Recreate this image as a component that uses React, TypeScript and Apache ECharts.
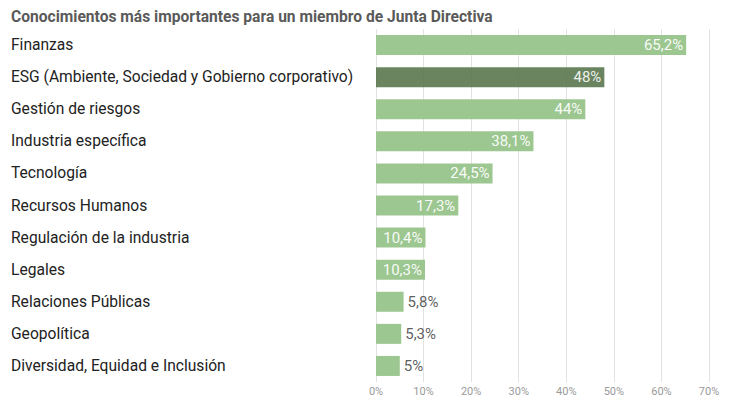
import React, { useEffect, useRef } from "react";
import * as echarts from "echarts";

const title = "Conocimientos más importantes para un miembro de Junta Directiva";
const categories = [
  "Finanzas",
  "ESG (Ambiente, Sociedad y Gobierno corporativo)",
  "Gestión de riesgos",
  "Industria específica",
  "Tecnología",
  "Recursos Humanos",
  "Regulación de la industria",
  "Legales",
  "Relaciones Públicas",
  "Geopolítica",
  "Diversidad, Equidad e Inclusión",
];
// bar lengths as drawn in the reference (percent)
const barValues = [65.2, 48, 44, 33.1, 24.5, 17.3, 10.4, 10.3, 5.8, 5.3, 5];
// value labels printed on the bars
const valueLabels = ["65,2%", "48%", "44%", "38,1%", "24,5%", "17,3%", "10,4%", "10,3%", "5,8%", "5,3%", "5%"];
const highlightIndex = 1;
const xTicks = [0, 10, 20, 30, 40, 50, 60, 70];

const FONT = "Roboto, 'DejaVu Sans', sans-serif";

export default function App() {
  const ref = useRef<HTMLDivElement>(null);
  useEffect(() => {
    if (!ref.current) return;
    const chart = echarts.init(ref.current, undefined, { renderer: "svg" });
    const data = barValues.map((v, i) => {
      const inside = v >= 10;
      return {
        value: v,
        itemStyle: {
          color: i === highlightIndex ? "#5a774e" : "#98c48b",
          opacity: i === highlightIndex ? 0.9 : 0.95,
        },
        label: inside
          ? { position: "insideRight", distance: 3, color: "#ffffff" }
          : { position: "right", distance: 4, color: "#555555" },
      };
    });
    chart.setOption({
      animation: false,
      title: {
        text: title,
        left: 11,
        top: 9,
        padding: 0,
        textStyle: { fontFamily: FONT, fontSize: 15.6, fontWeight: "bold", color: "#5a5a5a" },
      },
      grid: { left: 376, right: 21, top: 29, bottom: 22, containLabel: false },
      xAxis: {
        type: "value",
        min: xTicks[0],
        max: xTicks[xTicks.length - 1],
        interval: 10,
        axisLine: { show: false },
        axisTick: { show: false },
        splitLine: { show: true, lineStyle: { color: "#e2e2e2", width: 1 } },
        axisLabel: {
          formatter: (v: number) => v + "%",
          color: "#9a9a9a",
          fontFamily: FONT,
          fontSize: 11,
          margin: 4,
        },
      },
      yAxis: {
        type: "category",
        data: categories,
        inverse: true,
        axisLine: { show: false },
        axisTick: { show: false },
        splitLine: { show: false },
        axisLabel: {
          align: "left",
          margin: 365,
          color: "#222222",
          fontFamily: FONT,
          fontSize: 15.6,
        },
      },
      series: [
        {
          type: "bar",
          data,
          barWidth: 20,
          label: {
            show: true,
            fontFamily: FONT,
            fontSize: 15,
            formatter: (p: any) => valueLabels[p.dataIndex],
          },
        },
      ],
    });
    return () => chart.dispose();
  }, []);
  return <div ref={ref} style={{ width: 730, height: 404, position: "absolute", left: 0, top: 0 }} />;
}
